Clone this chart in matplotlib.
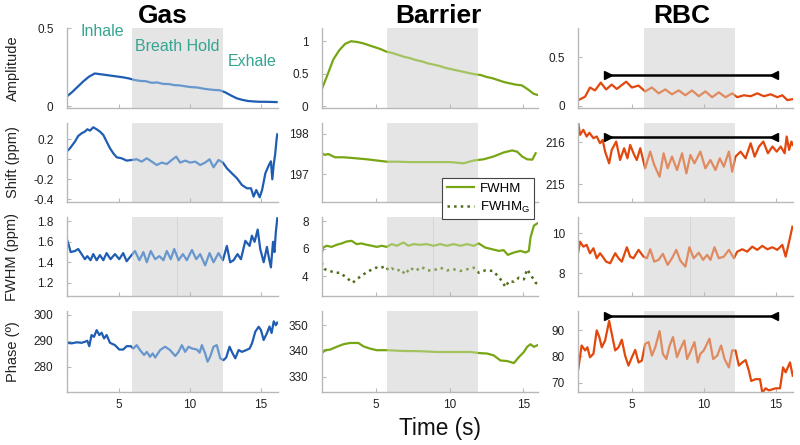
import matplotlib
matplotlib.use('Agg')
import matplotlib.pyplot as plt
from matplotlib.lines import Line2D
from matplotlib.path import Path

plt.rcParams['font.family'] = ['Liberation Sans', 'DejaVu Sans']
plt.rcParams['mathtext.default'] = 'regular'
plt.rcParams['axes.unicode_minus'] = False

# ---------------- Gas ----------------
gas_amp_t = [1.3, 1.7, 2.1, 2.5, 2.9, 3.3, 3.7, 4.1, 4.5, 4.9, 5.3, 5.7, 6.1, 6.5, 6.9, 7.3, 7.7, 8.1, 8.5,
             8.9, 9.3, 9.7, 10.1, 10.5, 10.9, 11.3, 11.7, 12.1, 12.5, 12.9, 13.3, 13.7, 14.1, 14.5, 14.9,
             15.3, 15.7, 16.1]
gas_amp = [0.06, 0.09, 0.125, 0.16, 0.19, 0.21, 0.205, 0.20, 0.195, 0.19, 0.185, 0.178, 0.168, 0.162,
           0.160, 0.150, 0.152, 0.143, 0.142, 0.135, 0.133, 0.127, 0.122, 0.120, 0.113, 0.108, 0.104,
           0.102, 0.088, 0.068, 0.05, 0.04, 0.033, 0.03, 0.028, 0.028, 0.027, 0.026]

gas_shift_t = [1.32, 1.55, 1.9, 2.13, 2.37, 2.6, 2.77, 2.96, 3.19, 3.43, 3.66, 3.9, 4.13, 4.37, 4.6,
               4.84, 5.19, 5.54, 5.9, 6.25, 6.6, 6.96, 7.31, 7.66, 8.02, 8.37, 8.72, 9.03, 9.31, 9.66,
               10.02, 10.37, 10.72, 11.07, 11.38, 11.66, 12.01, 12.32, 12.6, 12.95, 13.31, 13.66, 14.01,
               14.3, 14.48, 14.67, 14.91, 15.08, 15.31, 15.55, 15.7, 15.8, 15.9, 16.0, 16.1, 16.15]
gas_shift = [0.077, 0.11, 0.177, 0.233, 0.26, 0.277, 0.30, 0.287, 0.32, 0.30, 0.277, 0.243, 0.177, 0.11,
             0.06, 0.02, 0.01, -0.013, -0.007, 0.0, -0.023, 0.01, -0.023, -0.057, -0.033, -0.047, -0.007,
             0.027, -0.033, -0.013, -0.033, -0.023, -0.057, -0.033, 0.0, -0.08, -0.007, -0.033, -0.09,
             -0.14, -0.19, -0.257, -0.29, -0.29, -0.373, -0.307, -0.38, -0.307, -0.14, -0.06, -0.02,
             -0.2, -0.05, 0.05, 0.2, 0.25]

gas_fwhm_t = [1.32, 1.44, 1.6, 1.9, 2.13, 2.37, 2.6, 2.77, 3.0, 3.19, 3.43, 3.66, 3.9, 4.13, 4.41, 4.72,
              5.02, 5.3, 5.54, 5.83, 6.13, 6.44, 6.72, 6.96, 7.24, 7.55, 7.85, 8.13, 8.37, 8.65, 8.89, 9.2,
              9.5, 9.78, 10.14, 10.44, 10.72, 11.07, 11.38, 11.66, 12.01, 12.32, 12.6, 12.83, 13.07,
              13.35, 13.59, 13.9, 14.2, 14.36, 14.55, 14.77, 14.95, 15.19, 15.42, 15.55, 15.7, 15.85,
              15.95, 16.05, 16.15]
gas_fwhm = [1.63, 1.58, 1.50, 1.51, 1.53, 1.48, 1.43, 1.46, 1.42, 1.48, 1.42, 1.47, 1.42, 1.49, 1.43,
            1.48, 1.43, 1.49, 1.41, 1.46, 1.51, 1.42, 1.50, 1.40, 1.51, 1.43, 1.46, 1.42, 1.51, 1.43,
            1.53, 1.42, 1.48, 1.42, 1.52, 1.43, 1.48, 1.37, 1.49, 1.40, 1.49, 1.42, 1.56, 1.40, 1.42,
            1.48, 1.43, 1.61, 1.56, 1.66, 1.60, 1.72, 1.53, 1.40, 1.55, 1.45, 1.35, 1.6, 1.5, 1.7, 1.83]

gas_phase_t = [1.32, 1.67, 2.03, 2.37, 2.6, 2.77, 2.91, 3.07, 3.24, 3.43, 3.62, 3.78, 3.95, 4.13, 4.37,
               4.72, 5.02, 5.3, 5.54, 5.83, 6.01, 6.25, 6.48, 6.77, 6.96, 7.19, 7.38, 7.55, 7.9, 8.25,
               8.6, 8.96, 9.2, 9.43, 9.66, 9.9, 10.14, 10.49, 10.68, 10.84, 11.07, 11.24, 11.42, 11.66,
               11.89, 12.13, 12.36, 12.55, 12.79, 12.95, 13.19, 13.43, 13.66, 13.97, 14.2, 14.37, 14.6,
               14.84, 15.0, 15.19, 15.42, 15.6, 15.75, 15.9, 16.05, 16.15]
gas_phase = [289.2, 289.0, 289.4, 289.2, 289.6, 290.0, 287.9, 292.2, 291.5, 294.1, 292.2, 293.1, 290.9,
             292.2, 289.2, 288.3, 286.6, 286.6, 287.9, 287.9, 287.0, 288.3, 286.4, 284.5, 285.7, 283.8,
             285.1, 283.5, 286.4, 287.7, 286.4, 284.1, 285.7, 288.3, 285.7, 287.7, 287.0, 286.6, 285.4,
             288.3, 285.1, 281.9, 283.8, 287.7, 288.3, 283.2, 282.5, 283.5, 287.7, 285.7, 283.2, 286.4,
             285.7, 286.4, 287.0, 289.0, 293.5, 295.4, 294.1, 290.3, 292.9, 295.5, 293.0, 297.5, 296.0,
             297.0]

# ---------------- Barrier ----------------
bar_amp_t = [1.3, 1.7, 2.1, 2.5, 2.9, 3.3, 3.7, 4.1, 4.5, 4.9, 5.3, 5.7, 6.1, 6.5, 6.9, 7.3, 7.7, 8.1, 8.5,
             8.9, 9.3, 9.7, 10.1, 10.5, 10.9, 11.3, 11.7, 12.1, 12.5, 12.9, 13.3, 13.7, 14.1, 14.5, 14.9,
             15.3, 15.7, 16.0]
bar_amp = [0.25, 0.48, 0.72, 0.86, 0.96, 1.0, 0.99, 0.97, 0.94, 0.91, 0.88, 0.84, 0.82, 0.79, 0.76, 0.74,
           0.71, 0.69, 0.66, 0.64, 0.62, 0.59, 0.57, 0.55, 0.53, 0.51, 0.49, 0.48, 0.45, 0.43, 0.40, 0.37,
           0.35, 0.33, 0.32, 0.26, 0.19, 0.17]

bar_shift_t = [1.3, 1.53, 1.76, 2.21, 2.78, 3.46, 4.37, 5.05, 5.73, 6.41, 7.32, 8.23, 9.14, 10.04, 10.95,
               11.63, 12.31, 12.99, 13.67, 14.24, 14.58, 14.92, 15.26, 15.61, 15.84]
bar_shift = [197.52, 197.48, 197.5, 197.42, 197.42, 197.40, 197.37, 197.34, 197.31, 197.31, 197.30,
             197.30, 197.30, 197.30, 197.27, 197.34, 197.37, 197.44, 197.54, 197.59, 197.56, 197.44,
             197.37, 197.36, 197.52]

bar_fwhm_t = [1.3, 1.41, 1.64, 1.98, 2.32, 2.66, 3.0, 3.34, 3.68, 4.02, 4.37, 4.71, 5.05, 5.39, 5.73, 6.07,
              6.41, 6.86, 7.2, 7.54, 8.0, 8.45, 8.9, 9.36, 9.81, 10.27, 10.72, 11.18, 11.63, 11.97, 12.42,
              12.88, 13.33, 13.67, 13.95, 14.36, 14.81, 15.15, 15.38, 15.49, 15.72, 15.95]
bar_fwhm = [5.59, 6.07, 6.2, 6.12, 6.27, 6.37, 6.51, 6.56, 6.32, 6.37, 6.27, 6.2, 6.12, 6.2, 6.12, 6.32,
            6.2, 6.44, 6.2, 6.32, 6.27, 6.32, 6.2, 6.32, 6.2, 6.32, 6.2, 6.32, 6.2, 6.37, 6.07, 5.95, 5.83,
            5.88, 5.54, 5.71, 5.83, 5.71, 5.83, 6.8, 7.66, 7.83]

bar_fwhmg_t = [1.3, 1.53, 1.87, 2.21, 2.55, 3.0, 3.41, 3.68, 4.14, 4.6, 5.0, 5.28, 5.62, 5.85, 6.07, 6.37,
               6.69, 6.98, 7.32, 7.66, 8.11, 8.45, 8.9, 9.36, 9.81, 10.27, 10.72, 11.18, 11.63, 11.97,
               12.42, 12.95, 13.27, 13.56, 13.79, 14.02, 14.36, 14.7, 15.04, 15.26, 15.49, 15.84, 16.0]
bar_fwhmg = [4.98, 4.49, 4.37, 4.24, 4.24, 3.88, 3.51, 3.76, 4.12, 4.41, 4.61, 4.56, 4.73, 4.41, 4.56,
             4.37, 4.49, 4.12, 4.61, 4.37, 4.66, 4.41, 4.41, 4.61, 4.41, 4.49, 4.37, 4.49, 4.61, 4.24,
             4.41, 4.37, 4.0, 3.63, 3.2, 3.63, 3.59, 3.88, 3.76, 4.49, 4.12, 3.51, 3.39]

bar_phase_t = [1.3, 1.53, 1.87, 2.32, 2.78, 3.23, 3.8, 4.14, 4.6, 5.05, 5.73, 6.86, 8.0, 9.14, 10.27,
               11.41, 11.97, 12.54, 12.99, 13.45, 13.9, 14.36, 14.7, 15.04, 15.26, 15.49, 15.72, 15.95]
bar_phase = [339.0, 340.3, 340.5, 341.6, 342.6, 343.1, 343.1, 341.8, 340.9, 340.3, 340.3, 340.0, 339.9,
             339.6, 339.6, 339.6, 339.2, 339.0, 338.3, 336.3, 336.1, 335.3, 337.6, 339.6, 341.6, 342.6,
             341.6, 342.2]

# ---------------- RBC ----------------
rbc_amp_t = [1.30, 1.77, 2.11, 2.46, 2.86, 3.23, 3.62, 3.97, 4.62, 5.02, 5.48, 5.94, 6.41, 6.87, 7.34,
             7.80, 8.27, 8.73, 9.19, 9.66, 10.12, 10.59, 11.05, 11.52, 11.98, 12.33, 12.79, 13.26, 13.72,
             14.18, 14.65, 15.11, 15.46, 15.81, 16.16]
rbc_amp = [0.06, 0.095, 0.19, 0.16, 0.24, 0.17, 0.22, 0.175, 0.25, 0.19, 0.21, 0.15, 0.19, 0.13, 0.17,
           0.12, 0.16, 0.11, 0.16, 0.10, 0.15, 0.09, 0.14, 0.09, 0.13, 0.09, 0.11, 0.10, 0.13, 0.10, 0.12,
           0.09, 0.11, 0.06, 0.07]

rbc_shift_t = [1.30, 1.42, 1.65, 1.88, 2.07, 2.35, 2.58, 2.81, 2.99, 3.16, 3.44, 3.62, 3.93, 4.20, 4.48,
               4.71, 4.90, 5.18, 5.36, 5.60, 5.94, 6.29, 6.57, 6.94, 7.22, 7.50, 7.80, 8.15, 8.50, 8.80,
               9.08, 9.36, 9.77, 10.12, 10.47, 10.82, 11.12, 11.40, 11.75, 11.98, 12.21, 12.56, 12.91,
               13.26, 13.54, 13.84, 14.14, 14.46, 14.77, 15.07, 15.35, 15.62, 15.76, 15.93, 16.09, 16.18]
rbc_shift = [216.46, 216.18, 216.3, 216.14, 216.23, 216.1, 216.14, 215.98, 216.06, 215.78, 215.5, 215.82,
             216.02, 215.58, 215.86, 215.62, 215.94, 215.7, 215.58, 215.86, 215.38, 215.78, 215.46,
             215.18, 215.74, 215.38, 215.66, 215.34, 215.74, 215.26, 215.7, 215.5, 215.78, 215.38,
             215.58, 215.34, 215.62, 215.42, 215.78, 215.3, 215.66, 215.78, 215.62, 215.98, 215.66,
             215.9, 216.02, 215.74, 215.9, 215.78, 215.9, 215.74, 216.14, 215.82, 216.02, 215.94]

rbc_fwhm_t = [1.30, 1.42, 1.65, 1.88, 2.11, 2.35, 2.58, 2.81, 2.99, 3.23, 3.51, 3.86, 4.09, 4.32, 4.67,
              4.90, 5.13, 5.48, 5.83, 6.06, 6.29, 6.57, 6.87, 7.17, 7.50, 7.80, 8.10, 8.38, 8.73, 9.01,
              9.31, 9.66, 9.96, 10.24, 10.47, 10.75, 11.05, 11.40, 11.75, 12.10, 12.33, 12.68, 13.02,
              13.37, 13.72, 14.07, 14.42, 14.77, 15.11, 15.46, 15.69, 15.93, 16.16]
rbc_fwhm = [9.08, 9.58, 9.33, 9.42, 9.0, 9.25, 8.75, 9.0, 8.83, 8.58, 8.5, 9.0, 8.75, 8.58, 9.3, 8.83,
            8.75, 9.17, 8.83, 8.75, 9.2, 8.58, 8.67, 8.97, 8.42, 8.75, 9.17, 8.63, 8.33, 9.3, 8.75, 9.03,
            8.67, 8.92, 8.67, 9.3, 8.75, 8.83, 9.17, 8.75, 9.08, 9.2, 9.08, 9.33, 9.17, 9.37, 9.2, 9.3,
            9.17, 9.42, 8.83, 9.58, 10.33]

rbc_phase_t = [1.30, 1.53, 1.77, 1.93, 2.11, 2.35, 2.58, 2.76, 2.93, 3.16, 3.44, 3.62, 3.86, 4.09, 4.32,
               4.55, 4.78, 5.02, 5.25, 5.48, 5.71, 5.94, 6.18, 6.41, 6.64, 6.94, 7.17, 7.41, 7.64, 7.87,
               8.15, 8.38, 8.66, 8.85, 9.12, 9.36, 9.59, 9.77, 10.01, 10.40, 10.66, 10.94, 11.21, 11.45,
               11.75, 11.98, 12.21, 12.44, 12.68, 12.91, 13.14, 13.30, 13.60, 13.91, 14.07, 14.30, 14.53,
               14.77, 15.00, 15.30, 15.51, 15.69, 15.99, 16.18]
rbc_phase = [75.2, 84.2, 82.3, 83.5, 79.7, 81.0, 90.0, 87.4, 83.5, 86.1, 93.6, 88.7, 82.3, 83.5, 86.4,
             80.3, 76.5, 79.7, 82.5, 77.7, 78.4, 84.8, 85.5, 80.3, 83.5, 89.7, 81.0, 79.0, 84.2, 87.4,
             79.7, 82.9, 86.1, 79.0, 82.3, 85.5, 77.7, 81.0, 82.3, 86.8, 79.0, 80.3, 84.2, 79.0, 75.8,
             82.3, 82.3, 76.5, 77.7, 78.6, 74.5, 70.6, 71.3, 71.3, 66.1, 67.8, 67.0, 67.4, 67.8, 67.8,
             75.8, 73.9, 77.7, 72.6]

# black range bars on the RBC panels (amplitude, shift, phase)
rbc_bar_t = [3.33, 14.9]
rbc_bar_y = {0: 0.315, 1: 216.14, 3: 95.5}

col_titles = ['Gas', 'Barrier', 'RBC']
row_labels = ['Amplitude', 'Shift (ppm)', 'FWHM (ppm)', 'Phase (º)']
x_ticks = [5, 10, 15]

y_ticks = [
    [[0, 0.5], [0, 0.5, 1], [0, 0.5]],
    [[-0.4, -0.2, 0, 0.2], [197, 198], [215, 216]],
    [[1.2, 1.4, 1.6, 1.8], [4, 6, 8], [8, 10]],
    [[280, 290, 300], [330, 340, 350], [70, 80, 90]],
]
y_ticklabels = [
    [['0', '0.5'], ['0', '0.5', '1'], ['0', '0.5']],
    [['-0.4', '-0.2', '0', '0.2'], ['197', '198'], ['215', '216']],
    [['1.2', '1.4', '1.6', '1.8'], ['4', '6', '8'], ['8', '10']],
    [['280', '290', '300'], ['330', '340', '350'], ['70', '80', '90']],
]
y_lims = [
    [(-0.01, 0.5), (-0.025, 1.2), (-0.018, 0.8)],
    [(-0.43, 0.366), (196.3, 198.28), (214.57, 216.47)],
    [(1.07, 1.84), (2.55, 8.27), (6.86, 10.8)],
    [(270.3, 301.5), (324.2, 355.5), (66.5, 97.4)],
]

# ---------------- styling / layout ----------------
W, H = 800, 445
col_left = [66.7, 321.7, 578.3]
col_width = [211.3, 216.3, 214.7]
row_top = [28.3, 122.7, 217.3, 311.0]
row_bot = [107.7, 202.3, 296.0, 391.7]
x_lims = [(1.32, 16.2), (1.31, 16.0), (1.3, 16.2)]
holds = [(5.89, 12.3), (5.72, 11.94), (5.83, 12.17)]
mid_line = [9.09, 8.9, 9.03]

dark = ['#1f5db3', '#77a614', '#e2470c']
light = ['#6797cd', '#a3c35f', '#e08a60']
g_dark, g_light = '#4f6d1c', '#849d55'
spine_c = '#b8b8b8'
teal = '#35a592'

fig = plt.figure(figsize=(8, 4.45), dpi=100)


def outside(x0, x1, s0, s1):
    # region left and right of the breath-hold band (x in data, y in axes units)
    left = Path([(x0 - 5, -1), (s0, -1), (s0, 2), (x0 - 5, 2), (x0 - 5, -1)], closed=True)
    right = Path([(s1, -1), (x1 + 5, -1), (x1 + 5, 2), (s1, 2), (s1, -1)], closed=True)
    return Path.make_compound_path(left, right)


def trace(ax, t, v, c_dark, c_light, span, out, ls='-', lw=1.6):
    ln_d, = ax.plot(t, v, color=c_dark, lw=lw, ls=ls, zorder=2)
    ln_d.set_clip_path(out, ax.get_xaxis_transform())
    ln_l, = ax.plot(t, v, color=c_light, lw=lw, ls=ls, zorder=3)
    ln_l.set_clip_path(span)


series = [
    [(gas_amp_t, gas_amp), (bar_amp_t, bar_amp), (rbc_amp_t, rbc_amp)],
    [(gas_shift_t, gas_shift), (bar_shift_t, bar_shift), (rbc_shift_t, rbc_shift)],
    [(gas_fwhm_t, gas_fwhm), (bar_fwhm_t, bar_fwhm), (rbc_fwhm_t, rbc_fwhm)],
    [(gas_phase_t, gas_phase), (bar_phase_t, bar_phase), (rbc_phase_t, rbc_phase)],
]

for r in range(4):
    for c in range(3):
        ax = fig.add_axes([col_left[c] / W, 1 - row_bot[r] / H, col_width[c] / W,
                           (row_bot[r] - row_top[r]) / H])
        span = ax.axvspan(holds[c][0], holds[c][1], color='#e5e5e5', lw=0, zorder=0)
        out = outside(x_lims[c][0], x_lims[c][1], holds[c][0], holds[c][1])
        if r == 2:
            ax.axvline(mid_line[c], color='#d2d2d2', lw=0.6, zorder=1)
        t, v = series[r][c]
        trace(ax, t, v, dark[c], light[c], span, out)
        if r == 2 and c == 1:
            trace(ax, bar_fwhmg_t, bar_fwhmg, g_dark, g_light, span, out, ls=':', lw=1.8)
        if c == 2 and r in rbc_bar_y:
            y = rbc_bar_y[r]
            ax.plot(rbc_bar_t, [y, y], color='k', lw=1.8, zorder=4, clip_on=False)
            ax.plot(rbc_bar_t[0], y, marker='>', ms=6, color='k', zorder=4, clip_on=False)
            ax.plot(rbc_bar_t[1], y, marker='<', ms=6, color='k', zorder=4, clip_on=False)

        ax.set_xlim(*x_lims[c])
        ax.set_ylim(*y_lims[r][c])
        ax.set_yticks(y_ticks[r][c])
        ax.set_yticklabels(y_ticklabels[r][c])
        ax.set_xticks(x_ticks)
        for s in ['top', 'right']:
            ax.spines[s].set_visible(False)
        for s in ['left', 'bottom']:
            ax.spines[s].set_color(spine_c)
            ax.spines[s].set_linewidth(1.0)
        ax.tick_params(axis='y', direction='in', length=3, width=0.8, color=spine_c,
                       pad=9.5, labelsize=8.5, labelcolor='#222222')
        ax.tick_params(axis='x', direction='in', length=3, width=0.8, color=spine_c,
                       pad=5, labelsize=8.5, labelcolor='#222222', labelbottom=(r == 3))

# row labels (gas column only)
for r in range(4):
    yc = (row_top[r] + row_bot[r]) / 2
    fig.text(12.5 / W, 1 - yc / H, row_labels[r], rotation=90, ha='center', va='center',
             fontsize=10.5, color='#222222')

# column titles
for name, xc in zip(col_titles, [162.5, 438.3, 681.7]):
    fig.text(xc / W, 1 - 23.3 / H, name, ha='center', va='baseline', fontsize=19,
             fontweight='bold', color='black')

# breathing phases
fig.text(80 / W, 1 - 36 / H, 'Inhale', color=teal, fontsize=11.5, va='baseline')
fig.text(135 / W, 1 - 50.7 / H, 'Breath Hold', color=teal, fontsize=11.5, va='baseline')
fig.text(227.7 / W, 1 - 66 / H, 'Exhale', color=teal, fontsize=11.5, va='baseline')

fig.text(440 / W, 1 - 435 / H, 'Time (s)', ha='center', va='baseline', fontsize=16.3,
         color='#111111')

handles = [Line2D([], [], color=dark[1], lw=1.6),
           Line2D([], [], color=g_dark, lw=1.8, ls=':')]
leg = fig.legend(handles, ['FWHM', 'FWHM$_G$'], loc='upper left',
                 bbox_to_anchor=(442 / W, 1 - 178 / H), borderaxespad=0, fontsize=9.5,
                 frameon=True, fancybox=False, framealpha=1, edgecolor='#444444',
                 handlelength=2.1, handletextpad=0.4, labelspacing=0.35, borderpad=0.35)
leg.get_frame().set_linewidth(0.8)

fig.savefig('out.png', dpi=100)
